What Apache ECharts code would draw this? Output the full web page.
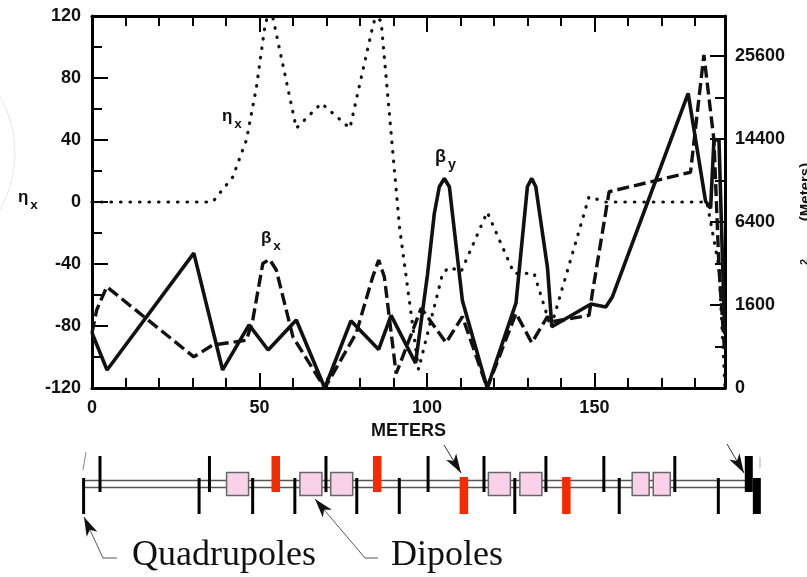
<!DOCTYPE html>
<html>
<head>
<meta charset="utf-8">
<style>
  html, body { margin: 0; padding: 0; background: #fff; }
  #chart { width: 807px; height: 577px; overflow: hidden; }
</style>
<script src="https://cdn.jsdelivr.net/npm/echarts@6/dist/echarts.min.js"></script>
</head>
<body>
<div id="chart"></div>
<script>
// [meters, eta_x]
const etaX = [[0,0],[36,0],[42,16],[46.1,40],[49.1,74],[51.6,113],[52.3,119],[54,119],[61,47.6],[68.5,63.7],[77,47.6],[83.8,113],[84.6,119],[86.3,117],[91.8,-16],[97.5,-108],[104.7,-46],[106.7,-42],[110.2,-45],[118,-6.5],[126,-46],[132,-46],[137,-81],[148.4,3.4],[153.4,0],[183.6,0],[187.2,-42],[189,-120]]
// [meters, sqrt(beta)] - the right axis is a square root scale
const betaX = [[0,26.5],[1.4,37.6],[4.4,48.8],[30.4,15],[36,20.7],[46.1,23],[48,32.8],[51,60],[53,62],[55,57],[60,24.6],[69.5,0],[78.9,26.5],[83.8,53.5],[85.6,61.7],[87.3,53.5],[90.8,7],[91.8,11],[98.3,38.5],[105.7,21.8],[110.6,34.4],[118,0],[126.6,36],[131.3,21.8],[136,34.4],[137.5,32],[148.4,35],[149.4,45.8],[154.4,94.6],[178.7,104],[182.7,160.5],[185.7,119.5],[187.2,58],[188.9,17]]
const betaY = [[0,26.5],[4.5,8.7],[30.4,65],[39,8.7],[46.9,30.4],[52.6,18.3],[61,32.8],[69.5,0],[77.3,32.4],[85.6,18.6],[89.3,35],[96.6,12],[100.2,55],[102.2,84],[103.7,97],[105.2,101],[106.7,97],[110.6,42],[118,0],[126.6,41],[130,97],[131.3,101],[132.5,97],[136,58],[137.3,29.5],[149,40.5],[153.4,39],[155.4,44],[178,142],[183.2,90],[184.7,86.6],[185.7,119.5],[187.2,119.5],[188.9,26]]

// lattice elements, positions in meters
const quadsUp = [2.4,35.1,69.9,100.4,117.1,135.6,152.9,174.1]
const quadsDown = [-2.5,32,48,60.6,79.1,91.8,126.3,157.5,187.1]
const endBlockUp = [196.2]
const endBlockDown = [198.6]
const redUp = [54.9,85.2]
const redDown = [111.1,141.7]
const dipolesLong = [43.5,65.4,74.6,121.7,131.1]
const dipolesShort = [163.9,170.2]
const railEnds = [-2.5,196]

const boldFont = '"Liberation Sans", Arial, sans-serif'
const chart = echarts.init(document.getElementById('chart'), null, { renderer: 'canvas' })

const axisLine = { show: true, onZero: false, lineStyle: { color: '#000', width: 3 } }

const latticeSeries = (positions, low, high, width, fill, stroke, z) => ({
  type: 'custom',
  xAxisIndex: 2,
  yAxisIndex: 2,
  clip: false,
  silent: true,
  z,
  data: positions.map(s => [s]),
  encode: { x: 0 },
  renderItem: (params, api) => {
    const x = api.coord([api.value(0), 0])[0]
    const top = api.coord([0, high])[1]
    const bottom = api.coord([0, low])[1]
    return {
      type: 'rect',
      shape: { x: x - width / 2, y: top, width, height: bottom - top },
      style: { fill, stroke: stroke || null, lineWidth: stroke ? 1.5 : 0 }
    }
  }
})

const rail = y => ({
  type: 'line',
  xAxisIndex: 2,
  yAxisIndex: 2,
  symbol: 'none',
  silent: true,
  z: 1,
  data: railEnds.map(s => [s, y]),
  lineStyle: { color: '#555', width: 1.5 }
})

const subLabel = (main, sub, x, y, size) => [
  { type: 'text', left: x, top: y, style: { text: main, font: `bold ${size}px ${boldFont}`, fill: '#111' } },
  { type: 'text', left: x + size * 0.72, top: y + size * 0.55, style: { text: sub, font: `bold ${size * 0.8}px ${boldFont}`, fill: '#111' } }
]

// arrow ending at the tip, coming from the previous point
const arrow = (points, color) => {
  const tip = points[points.length - 1]
  const prev = points[points.length - 2]
  const a = Math.atan2(tip[1] - prev[1], tip[0] - prev[0])
  const len = 20
  const back = [tip[0] - Math.cos(a) * len * 0.7, tip[1] - Math.sin(a) * len * 0.7]
  const side = d => [tip[0] - Math.cos(a + d) * len, tip[1] - Math.sin(a + d) * len]
  return [
    { type: 'polyline', shape: { points }, style: { stroke: color, lineWidth: 1, fill: null } },
    { type: 'polygon', shape: { points: [tip, side(0.3), back, side(-0.3)] }, style: { fill: '#111' } }
  ]
}

const option = {
  backgroundColor: '#fff',
  animation: false,
  grid: [
    { left: 92, top: 16, width: 633, height: 372, outerBoundsMode: 'none' },
    { left: 25, top: 444, width: 770, height: 80, outerBoundsMode: 'none' }
  ],
  xAxis: [
    {
      gridIndex: 0, type: 'value', min: 0, max: 189, interval: 50,
      name: 'METERS', nameLocation: 'middle', nameGap: 34,
      nameTextStyle: { color: '#111', fontWeight: 'bold', fontSize: 18, fontFamily: boldFont },
      axisLine,
      axisTick: { inside: true, length: 15, lineStyle: { color: '#000', width: 2 } },
      minorTick: { show: true, splitNumber: 5, length: 10, lineStyle: { color: '#000', width: 2 } },
      axisLabel: { color: '#111', fontWeight: 'bold', fontSize: 18, fontFamily: boldFont, margin: 11, showMaxLabel: false },
      splitLine: { show: false }
    },
    {
      gridIndex: 0, type: 'value', position: 'top', min: 0, max: 189, interval: 50,
      axisLine,
      axisTick: { inside: true, length: 16, lineStyle: { color: '#000', width: 2 } },
      minorTick: { show: true, splitNumber: 5, length: 10, lineStyle: { color: '#000', width: 2 } },
      axisLabel: { show: false },
      splitLine: { show: false }
    },
    { gridIndex: 1, type: 'value', min: -20, max: 210, show: false, splitLine: { show: false } }
  ],
  yAxis: [
    {
      gridIndex: 0, type: 'value', min: -120, max: 120, interval: 40,
      axisLine,
      axisTick: { show: true, inside: true, length: 16, lineStyle: { color: '#000', width: 2 } },
      minorTick: { show: true, splitNumber: 2, length: 10, lineStyle: { color: '#000', width: 2 } },
      axisLabel: { color: '#111', fontWeight: 'bold', fontSize: 18, fontFamily: boldFont, margin: 11 },
      splitLine: { show: false }
    },
    {
      gridIndex: 0, type: 'value', position: 'right', min: 0, max: 179.3, interval: 40,
      axisLine,
      axisTick: { show: true, inside: true, length: 15, lineStyle: { color: '#000', width: 2 } },
      minorTick: { show: true, splitNumber: 2, length: 10, lineStyle: { color: '#000', width: 2 } },
      axisLabel: {
        color: '#111', fontWeight: 'bold', fontSize: 18, fontFamily: boldFont, margin: 10, showMaxLabel: false,
        formatter: v => String(v * v)
      },
      splitLine: { show: false }
    },
    { gridIndex: 1, type: 'value', min: -40, max: 40, show: false, splitLine: { show: false } }
  ],
  series: [
    {
      name: 'eta_x', type: 'line', xAxisIndex: 0, yAxisIndex: 0, symbol: 'none', data: etaX, z: 3,
      lineStyle: { color: '#111', width: 3.2, type: [0.5, 9], cap: 'round' }
    },
    {
      name: 'beta_x', type: 'line', xAxisIndex: 0, yAxisIndex: 1, symbol: 'none', data: betaX, z: 4,
      lineStyle: { color: '#111', width: 3.4, type: [12, 5] }
    },
    {
      name: 'beta_y', type: 'line', xAxisIndex: 0, yAxisIndex: 1, symbol: 'none', data: betaY, z: 5,
      lineStyle: { color: '#111', width: 3.6 }
    },
    rail(3.5),
    rail(-3.5),
    latticeSeries(quadsUp, -8, 28, 3, '#000', null, 3),
    latticeSeries(quadsDown, -30, 6, 3, '#000', null, 3),
    latticeSeries(endBlockUp, -8, 28, 8, '#000', null, 3),
    latticeSeries(endBlockDown, -30, 6, 8, '#000', null, 3),
    latticeSeries(redUp, -8, 28, 8.5, '#f52a00', null, 3),
    latticeSeries(redDown, -30, 7, 8.5, '#f52a00', null, 3),
    latticeSeries(dipolesLong, -11.5, 11.5, 22, '#f9d2ea', '#666', 4),
    latticeSeries(dipolesShort, -11.5, 11.5, 17, '#f9d2ea', '#666', 4)
  ],
  graphic: [
    ...subLabel('η', 'x', 18, 189, 17),
    ...subLabel('η', 'x', 222, 108, 17),
    ...subLabel('β', 'x', 261, 230, 17),
    ...subLabel('β', 'y', 435, 148, 18),
    {
      type: 'text', x: 798, y: 192, rotation: Math.PI / 2,
      style: { text: '(Meters)', font: `bold 15px ${boldFont}`, fill: '#111', align: 'center', verticalAlign: 'top' }
    },
    {
      type: 'text', x: 799, y: 262, rotation: Math.PI / 2,
      style: { text: '2', font: `bold 11px ${boldFont}`, fill: '#111', align: 'center', verticalAlign: 'top' }
    },
    {
      type: 'text', left: 132, top: 538,
      style: { text: 'Quadrupoles', font: '36px "Liberation Serif", serif', fill: '#111' }
    },
    {
      type: 'text', left: 391, top: 538,
      style: { text: 'Dipoles', font: '36px "Liberation Serif", serif', fill: '#111' }
    },
    ...arrow([[117, 558], [103, 558], [84, 517]], '#555'),
    ...arrow([[378, 558], [365, 558], [315, 499]], '#555'),
    ...arrow([[444, 445], [461, 473]], '#333'),
    ...arrow([[727, 444], [744, 473]], '#333'),
    { type: 'line', shape: { x1: 86, y1: 452, x2: 83, y2: 470 }, style: { stroke: '#888', lineWidth: 1 } },
    { type: 'line', shape: { x1: 760, y1: 457, x2: 760, y2: 468 }, style: { stroke: '#aaa', lineWidth: 1 } },
    { type: 'circle', shape: { cx: -99, cy: 153, r: 114 }, style: { fill: null, stroke: '#e6e6e6', lineWidth: 1 } }
  ]
}

chart.setOption(option)
</script>
</body>
</html>
